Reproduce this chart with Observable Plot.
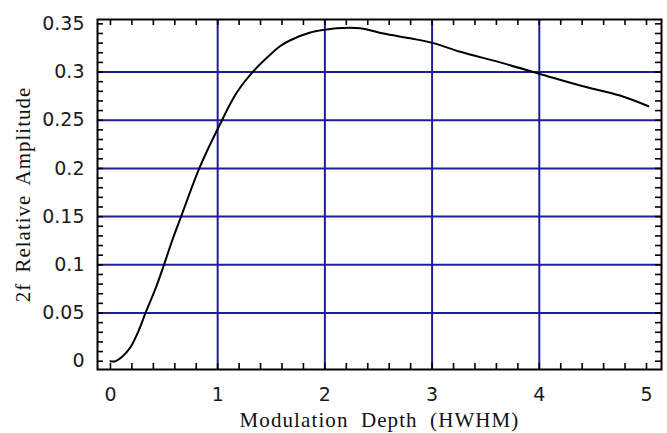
<!DOCTYPE html>
<html>
<head>
<meta charset="utf-8">
<script src="https://cdn.jsdelivr.net/npm/d3@7"></script>
<script src="https://cdn.jsdelivr.net/npm/@observablehq/plot@0.6"></script>
<style>
  html, body { margin: 0; padding: 0; background: #fff; }
</style>
</head>
<body>
<div id="chart"></div>
<script>
// 2f peak amplitude versus modulation depth (in units of the line HWHM)
const depth = [
  0, 0.047, 0.109, 0.186, 0.264, 0.326, 0.419, 0.497, 0.575, 0.662,
  0.832, 1.009, 1.18, 1.351, 1.49, 1.584, 1.678, 1.864, 2.004, 2.11,
  2.33, 2.547, 2.796, 3.013, 3.262, 3.635, 4.007, 4.38, 4.753, 5.017
];
const amplitude = [
  0, 0, 0.0045, 0.0145, 0.032, 0.0498, 0.075, 0.0993, 0.125, 0.151,
  0.201, 0.243, 0.279, 0.303, 0.318, 0.327, 0.333, 0.341, 0.344, 0.3455,
  0.3455, 0.340, 0.335, 0.330, 0.321, 0.310, 0.298, 0.286, 0.2756, 0.2645
];

const xTickValues = [0, 1, 2, 3, 4, 5];
const yTickValues = [0, 0.05, 0.1, 0.15, 0.2, 0.25, 0.3, 0.35];
const xGridValues = [1, 2, 3, 4];
const yGridValues = [0.05, 0.1, 0.15, 0.2, 0.25, 0.3];
const xMinor = d3.range(0, 26).map(i => i / 5);
const yMinor = d3.range(0, 36).map(i => i / 100);

const xLabel = "Modulation Depth (HWHM)";
const yLabel = "2f Relative Amplitude";

const curve = depth.map((d, i) => ({depth: d, amplitude: amplitude[i]}));

const gridColor = "#1e1e9c";
const labelFont = {fontFamily: "Liberation Serif", fontSize: 21, fill: "#111", textAnchor: "middle", lineAnchor: "middle"};

// the frame is 350px tall and 564px wide; minor ticks point inward
const frameH = 350, frameW = 564, tickLen = 6;
const tickStyle = {stroke: "#000", strokeWidth: 1.6};

const chart = Plot.plot({
  width: 667,
  height: 433,
  marginLeft: 97,
  marginRight: 6,
  marginTop: 19,
  marginBottom: 64,
  x: {domain: [-0.121, 5.14]},
  y: {domain: [-0.0086, 0.3545]},
  style: {background: "#fff", color: "#1a1a1a", fontFamily: "DejaVu Sans", fontSize: "19px"},
  marks: [
    Plot.ruleX(xGridValues, {stroke: gridColor, strokeWidth: 2}),
    Plot.ruleY(yGridValues, {stroke: gridColor, strokeWidth: 2}),
    Plot.line(curve, {x: "depth", y: "amplitude", stroke: "#000", strokeWidth: 2, curve: "catmull-rom"}),
    Plot.ruleX(xMinor, {insetTop: frameH - tickLen, ...tickStyle}),
    Plot.ruleX(xMinor, {insetBottom: frameH - tickLen, ...tickStyle}),
    Plot.ruleY(yMinor, {insetRight: frameW - tickLen, ...tickStyle}),
    Plot.ruleY(yMinor, {insetLeft: frameW - tickLen, ...tickStyle}),
    // tick labels
    Plot.axisX(xTickValues, {anchor: "bottom", tickSize: 0, tickPadding: 18, label: null}),
    Plot.axisY(yTickValues, {anchor: "left", tickSize: 0, tickPadding: 13, label: null, tickFormat: d => String(d)}),
    Plot.frame({stroke: "#000", strokeWidth: 2}),
    // axis titles
    Plot.text([xLabel], {frameAnchor: "bottom", dy: 51, ...labelFont}),
    Plot.text([yLabel], {frameAnchor: "left", dx: -74, rotate: -90, ...labelFont})
  ]
});

// widen the serif axis titles
chart.querySelectorAll("text").forEach(t => {
  if (t.textContent === xLabel) { t.style.letterSpacing = "1.1px"; t.style.wordSpacing = "6px"; }
  if (t.textContent === yLabel) { t.style.letterSpacing = "1px"; t.style.wordSpacing = "4px"; }
});

document.getElementById("chart").append(chart);
</script>
</body>
</html>
